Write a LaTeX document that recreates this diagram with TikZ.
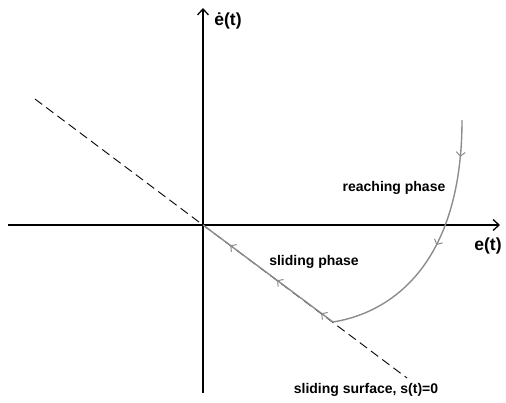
\documentclass[tikz,border=0pt]{standalone}
\usepackage{fontspec}
\setmainfont{Liberation Sans}
\usepackage{tikz}
\usetikzlibrary{
	positioning,
	calc,
	arrows.meta,
	decorations.markings
}
\definecolor{TrajGray}{RGB}{140,140,140}

\begin{document}
\begin{tikzpicture}[
	x=1pt,
	y=-1pt,
	axis/.style={
		line width=2.6pt,
		-{Straight Barb[length=6pt,width=11pt,line width=1.3pt]}
	},
	surface/.style={
		black,
		line width=0.9pt,
		dash pattern=on 9pt off 5pt
	},
	traj/.style={
		TrajGray,
		line width=1.4pt
	},
	label/.style={
		font=\bfseries\fontsize{14}{16}\selectfont,
		inner sep=0pt
	},
	axislabel/.style={
		font=\bfseries\fontsize{17.5}{20}\selectfont,
		inner sep=0pt
	}
	]
				
				\useasboundingbox (0,0) rectangle (506,402);
				
				\coordinate (O) at (203,225);
				\coordinate (XL) at (8,225);
				\coordinate (XR) at (500,225);
				\coordinate (YB) at (203,393);
				\coordinate (YT) at (203,8);
				\coordinate (SL) at (35,99);
				\coordinate (SR) at (407,378);
				\coordinate (START) at (462,120);
				\coordinate (HIT) at (333,322);
				
				\draw[axis] (XL) -- (XR);
				
				\draw[axis] (YB) -- (YT);
				
				\draw[surface] (SL) -- (SR);
				
				\draw[
				traj,
				decoration={
					markings,
					mark=at position 0.14 with {\arrow{Straight Barb[length=4pt,width=9pt,line width=1pt]}},
					mark=at position 0.49 with {\arrow{Straight Barb[length=4pt,width=9pt,line width=1pt]}}
				},
				postaction={decorate}
				]
				(START) .. controls (462,260) and (395,312) .. (HIT);
				
				\draw[
				traj,
				decoration={
					markings,
					mark=at position 0.09 with {\arrow{Straight Barb[length=4pt,width=9pt,line width=1pt]}},
					mark=at position 0.43 with {\arrow{Straight Barb[length=4pt,width=9pt,line width=1pt]}},
					mark=at position 0.79 with {\arrow{Straight Barb[length=4pt,width=9pt,line width=1pt]}}
				},
				postaction={decorate}
				]
				(HIT) -- (O);
				
				\node[
				axislabel
				]
				(EDOT)
				at (228,21)
				{ė(t)};
				
				\node[
				axislabel
				]
				(E)
				at (488,246)
				{e(t)};
				
				\node[
				label
				]
				(REACH)
				at (394,188)
				{reaching phase};
				
				\node[
				label
				]
				(SLIDE)
				at (314,262)
				{sliding phase};
				
				\node[
				label
				]
				(SURF)
				at (366,390)
				{sliding surface, s(t)=0};
				
			\end{tikzpicture}
\end{document}
